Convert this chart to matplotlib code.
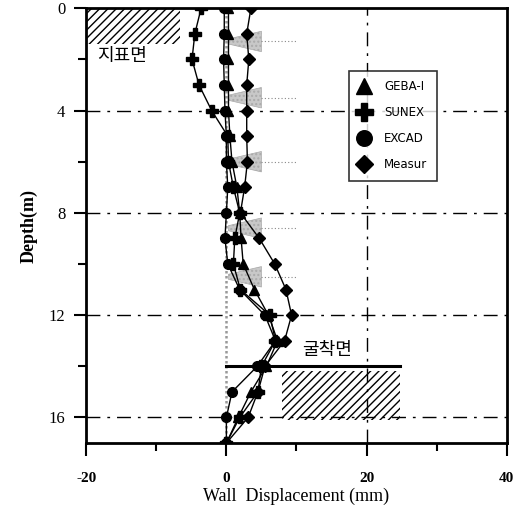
import matplotlib.pyplot as plt
from matplotlib.patches import Polygon, Rectangle

plt.rcParams['font.family'] = ['Noto Sans CJK KR', 'DejaVu Sans']
plt.rcParams['axes.unicode_minus'] = False

# 데이터
depth = [0, 1, 2, 3, 4, 5, 6, 7, 8, 9, 10, 11, 12, 13, 14, 15, 16, 17]
geba = [0.3, 0.3, 0.3, 0.3, 0.3, 0.5, 0.8, 1.5, 1.9, 2.1, 2.4, 4.0, 6.0, 7.3, 5.7, 3.5, 1.7, 0]
sunex = [-3.6, -4.5, -4.9, -3.9, -2.1, 0.2, 0.3, 1.0, 1.9, 1.2, 1.0, 2.0, 6.2, 7.0, 5.0, 4.5, 1.9, 0]
excad = [-0.3, -0.3, -0.4, -0.3, -0.2, 0, 0, 0.2, 0, -0.2, 0.2, 1.9, 5.5, 7.0, 4.4, 0.8, 0, 0]
measur = [3.5, 2.9, 3.2, 2.9, 2.9, 2.9, 3.0, 2.6, 2.0, 4.7, 6.9, 8.5, 9.3, 8.3, 5.5, 4.5, 3.1, 0]
strut_depth = [1.3, 3.5, 6.0, 8.6, 10.5]

fig = plt.figure(figsize=(5.22, 5.14), dpi=100)
ax = fig.add_axes([0.165, 0.138, 0.806, 0.846])

# 그리드 (일점쇄선)
for d in [4, 8, 12, 16]:
    ax.axhline(d, color='black', lw=1, ls=(0, (10, 5, 2, 5)), zorder=1)
ax.axvline(20, color='black', lw=1, ls=(0, (10, 5, 2, 5)), zorder=1)
ax.axvline(0, color='#999999', lw=1.8, ls=(0, (1, 1)), zorder=1)

# 버팀대
for d in strut_depth:
    ax.add_patch(Polygon([[0.3, d - 0.1], [5, d - 0.4], [5, d + 0.4], [0.3, d + 0.1]],
                         closed=True, facecolor='#c8c8c8', edgecolor='#aaaaaa',
                         hatch='....', lw=0.5, zorder=2))
    ax.plot([5, 10], [d, d], color='#888888', lw=0.8, ls=(0, (1, 2)), zorder=2)

# 지표면 / 굴착면
ax.add_patch(Rectangle((-20, 0), 13.4, 1.4, facecolor='none', edgecolor='black',
                       hatch='////', lw=0, zorder=1))
ax.text(-18.5, 1.85, '지표면', fontsize=13, va='center', ha='left')
ax.plot([0, 24.7], [14, 14], color='black', lw=2.2, zorder=3)
ax.add_patch(Rectangle((8, 14.2), 16.7, 1.9, facecolor='none', edgecolor='black',
                       hatch='////', lw=0, zorder=1))
ax.text(10.8, 13.35, '굴착면', fontsize=13, va='center', ha='left')

# 데이터 곡선
ms = 7
ax.plot(geba, depth, color='black', lw=1, marker='^', ms=ms, label='GEBA-I', zorder=4)
ax.plot(sunex, depth, color='black', lw=1, marker='P', ms=ms + 1, label='SUNEX', zorder=4)
ax.plot(excad, depth, color='black', lw=1, marker='o', ms=ms, label='EXCAD', zorder=4)
ax.plot(measur, depth, color='black', lw=1, marker='D', ms=ms - 1, label='Measur', zorder=4)

ax.set_xlim(-20, 40)
ax.set_ylim(17, 0)
ax.set_xticks([-20, 0, 20, 40])
ax.set_xticks([-10, 10, 30], minor=True)
ax.set_yticks([0, 4, 8, 12, 16])
ax.set_yticks([2, 6, 10, 14], minor=True)
ax.tick_params(which='major', length=9, width=1.5, direction='out')
ax.tick_params(which='minor', length=6, width=1.5, direction='out')
for lab in ax.get_xticklabels():
    lab.set_family('Liberation Serif')
    lab.set_fontweight('bold')
    lab.set_fontsize(11)
for lab in ax.get_yticklabels():
    lab.set_family('Liberation Serif')
    lab.set_fontsize(12)
ax.tick_params(axis='x', pad=12)
ax.tick_params(axis='y', pad=6)
for s in ax.spines.values():
    s.set_linewidth(2)

ax.set_xlabel('Wall  Displacement (mm)', family='Liberation Serif', fontsize=13, labelpad=2)
ax.set_ylabel('Depth(m)', family='Liberation Serif', fontsize=13, fontweight='bold', labelpad=8)

leg = ax.legend(loc='upper left', bbox_to_anchor=(0.61, 0.87), frameon=True, fancybox=False,
                edgecolor='black', markerscale=1.6, handlelength=1.0, labelspacing=1.1,
                borderpad=0.8, handletextpad=1.2, prop={'family': 'DejaVu Sans', 'size': 8.5})
leg.get_frame().set_linewidth(1.2)
for h in leg.legend_handles:
    h.set_linestyle('none')

plt.savefig('out.png', dpi=100)
